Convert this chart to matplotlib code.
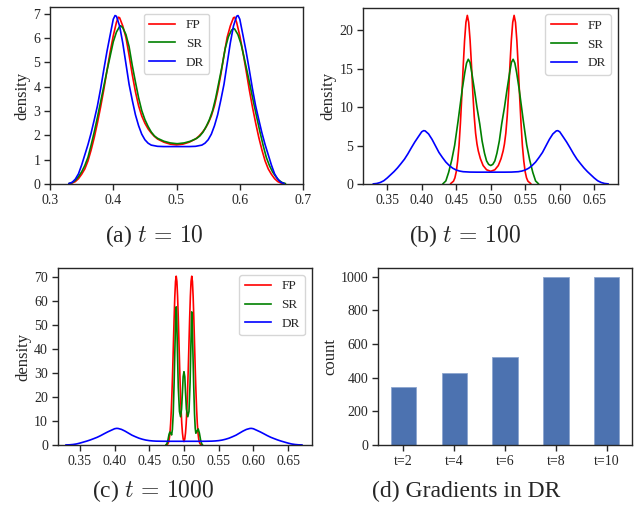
import matplotlib
matplotlib.use("Agg")
import matplotlib.pyplot as plt

# ----------------------------------------------------------------------
# data
# ----------------------------------------------------------------------

# DR density (same converged curve in all three panels)
dr_x = [0.330, 0.335, 0.340, 0.345, 0.350, 0.355, 0.360, 0.365, 0.370, 0.375,
        0.380, 0.385, 0.390, 0.395, 0.400, 0.4028, 0.405, 0.410, 0.415, 0.420,
        0.425, 0.430, 0.435, 0.440, 0.445, 0.450, 0.455, 0.460, 0.470, 0.480,
        0.500, 0.520, 0.530, 0.540, 0.545, 0.550, 0.555, 0.560, 0.565, 0.570,
        0.575, 0.580, 0.585, 0.590, 0.595, 0.5972, 0.600, 0.605, 0.610, 0.615,
        0.620, 0.625, 0.630, 0.635, 0.640, 0.645, 0.650, 0.655, 0.660, 0.665,
        0.670]
dr_y = [0.02, 0.07, 0.20, 0.42, 0.78, 1.20, 1.62, 2.10, 2.65, 3.22,
        3.92, 4.70, 5.45, 6.12, 6.78, 6.93, 6.90, 6.50, 5.80, 4.95,
        4.10, 3.45, 2.85, 2.40, 2.05, 1.82, 1.68, 1.60, 1.55, 1.54,
        1.54, 1.54, 1.55, 1.60, 1.68, 1.82, 2.05, 2.40, 2.85, 3.45,
        4.10, 4.95, 5.80, 6.50, 6.90, 6.93, 6.78, 6.12, 5.45, 4.70,
        3.92, 3.22, 2.65, 2.10, 1.62, 1.20, 0.78, 0.42, 0.20, 0.07,
        0.02]

# (a) t = 10
fp10_x = [0.330, 0.335, 0.340, 0.345, 0.350, 0.355, 0.360, 0.365, 0.370, 0.375,
          0.380, 0.385, 0.390, 0.395, 0.400, 0.405, 0.408, 0.410, 0.415, 0.420,
          0.425, 0.430, 0.435, 0.440, 0.445, 0.450, 0.455, 0.460, 0.465, 0.470,
          0.480, 0.490, 0.500, 0.510, 0.520, 0.530, 0.535, 0.540, 0.545, 0.550,
          0.555, 0.560, 0.565, 0.570, 0.575, 0.580, 0.585, 0.590, 0.592, 0.595,
          0.600, 0.605, 0.610, 0.615, 0.620, 0.625, 0.630, 0.635, 0.640, 0.645,
          0.650, 0.655, 0.660, 0.665, 0.670]
fp10_y = [0.01, 0.04, 0.10, 0.22, 0.40, 0.62, 0.95, 1.40, 1.92, 2.52,
          3.17, 3.88, 4.66, 5.42, 6.10, 6.65, 6.86, 6.84, 6.50, 6.03,
          5.30, 4.50, 3.80, 3.22, 2.80, 2.50, 2.27, 2.10, 1.96, 1.85,
          1.72, 1.64, 1.61, 1.64, 1.72, 1.85, 1.96, 2.10, 2.27, 2.50,
          2.80, 3.22, 3.80, 4.50, 5.30, 6.03, 6.50, 6.84, 6.86, 6.65,
          6.10, 5.42, 4.66, 3.88, 3.17, 2.52, 1.92, 1.40, 0.95, 0.62,
          0.40, 0.22, 0.10, 0.04, 0.01]
sr10_x = [0.330, 0.335, 0.340, 0.345, 0.350, 0.355, 0.360, 0.365, 0.370, 0.375,
          0.380, 0.385, 0.390, 0.395, 0.400, 0.405, 0.410, 0.4117, 0.415, 0.420,
          0.425, 0.430, 0.435, 0.440, 0.445, 0.450, 0.455, 0.460, 0.465, 0.470,
          0.480, 0.490, 0.500, 0.502, 0.512, 0.522, 0.532, 0.537, 0.542, 0.547,
          0.552, 0.557, 0.562, 0.567, 0.572, 0.577, 0.582, 0.587, 0.5903, 0.592,
          0.597, 0.602, 0.607, 0.612, 0.617, 0.622, 0.627, 0.632, 0.637, 0.642,
          0.647, 0.652, 0.657, 0.662, 0.667, 0.672]
sr10_y = [0.02, 0.06, 0.15, 0.30, 0.50, 0.76, 1.10, 1.60, 2.15, 2.75,
          3.38, 4.02, 4.65, 5.25, 5.85, 6.25, 6.48, 6.51, 6.43, 6.15,
          5.65, 4.88, 4.20, 3.55, 3.02, 2.65, 2.37, 2.14, 1.98, 1.88,
          1.76, 1.69, 1.66, 1.66, 1.69, 1.76, 1.88, 1.98, 2.14, 2.37,
          2.65, 3.02, 3.55, 4.20, 4.85, 5.58, 6.06, 6.33, 6.40, 6.37,
          6.15, 5.76, 5.18, 4.58, 3.96, 3.33, 2.72, 2.13, 1.58, 1.09,
          0.75, 0.49, 0.30, 0.15, 0.06, 0.02]

# (b) t = 100
fp100_x = [0.4421, 0.4461, 0.4481, 0.4501, 0.4521, 0.4541, 0.4561, 0.4581, 0.4601, 0.4621,
           0.4641, 0.4661, 0.4681, 0.4701, 0.4721, 0.4741, 0.4761, 0.4781, 0.4801, 0.4820,
           0.4850, 0.4890, 0.4940, 0.5000, 0.5060, 0.5110, 0.5150, 0.5180, 0.5199, 0.5219,
           0.5239, 0.5259, 0.5279, 0.5299, 0.5319, 0.5339, 0.5359, 0.5379, 0.5399, 0.5419,
           0.5439, 0.5459, 0.5479, 0.5499, 0.5519, 0.5539, 0.5579]
fp100_y = [0.06, 0.37, 0.80, 1.60, 3.00, 5.00, 7.90, 11.4, 15.2, 18.6,
           21.0, 21.9, 21.0, 18.7, 15.5, 11.8, 8.80, 6.60, 5.20, 4.30,
           3.30, 2.40, 1.85, 1.65, 1.85, 2.40, 3.30, 4.30, 5.20, 6.60,
           8.80, 11.8, 15.5, 18.7, 21.0, 21.9, 21.0, 18.6, 15.2, 11.4,
           7.90, 5.00, 3.00, 1.60, 0.80, 0.37, 0.06]
sr100_x = [0.4310, 0.4350, 0.4390, 0.4435, 0.4478, 0.4526, 0.4589, 0.4625, 0.4650, 0.4675,
           0.4700, 0.4725, 0.4768, 0.4800, 0.4841, 0.4875, 0.4910, 0.4940, 0.4970, 0.5000,
           0.5030, 0.5060, 0.5090, 0.5125, 0.5159, 0.5200, 0.5232, 0.5275, 0.5300, 0.5325,
           0.5350, 0.5375, 0.5411, 0.5474, 0.5522, 0.5565, 0.5610, 0.5650, 0.5690]
sr100_y = [0.05, 0.40, 1.50, 3.10, 5.05, 8.10, 12.4, 14.5, 15.7, 16.2,
           15.8, 14.5, 12.0, 10.0, 7.80, 5.60, 4.00, 3.00, 2.55, 2.40,
           2.55, 3.00, 4.00, 5.60, 7.80, 10.0, 12.0, 14.5, 15.8, 16.2,
           15.7, 14.5, 12.4, 8.10, 5.05, 3.10, 1.50, 0.40, 0.05]

# (c) t = 1000
fp1000_x = [0.4748, 0.4758, 0.4768, 0.4778, 0.4788, 0.4798, 0.4808, 0.4818, 0.4828, 0.4838,
            0.4848, 0.4858, 0.4868, 0.4878, 0.4888, 0.4898, 0.4908, 0.4918, 0.4928, 0.4938,
            0.4948, 0.4958, 0.4968, 0.4978, 0.4988, 0.5000, 0.5012, 0.5022, 0.5032, 0.5042,
            0.5052, 0.5062, 0.5072, 0.5082, 0.5092, 0.5102, 0.5112, 0.5122, 0.5132, 0.5142,
            0.5152, 0.5162, 0.5172, 0.5182, 0.5192, 0.5202, 0.5212, 0.5222, 0.5232, 0.5242,
            0.5252]
fp1000_y = [0.05, 0.2, 0.5, 1.2, 2.5, 5.0, 9.0, 15.0, 22.8, 32.0,
            42.5, 53.0, 62.0, 68.3, 70.5, 68.3, 62.0, 53.0, 42.5, 32.0,
            22.8, 15.0, 9.0, 5.0, 2.6, 1.4, 2.6, 5.0, 9.0, 15.0,
            22.8, 32.0, 42.5, 53.0, 62.0, 68.3, 70.5, 68.3, 62.0, 53.0,
            42.5, 32.0, 22.8, 15.0, 9.0, 5.0, 2.5, 1.2, 0.5, 0.2,
            0.05]
sr1000_x = [0.4739, 0.4755, 0.4770, 0.4785, 0.4797, 0.4810, 0.4822, 0.4833, 0.4845, 0.4858,
            0.4870, 0.4880, 0.4888, 0.4895, 0.4905, 0.4918, 0.4935, 0.4951, 0.4965, 0.4978,
            0.4988, 0.5000, 0.5012, 0.5022, 0.5035, 0.5055, 0.5072, 0.5088, 0.5100, 0.5107,
            0.5112, 0.5118, 0.5127, 0.5140, 0.5152, 0.5162, 0.5171, 0.5188, 0.5205, 0.5222,
            0.5240, 0.5255, 0.5268]
sr1000_y = [0.0, 0.6, 2.2, 4.5, 5.4, 4.9, 4.2, 6.5, 13.0, 26.0,
            41.0, 53.0, 57.7, 54.0, 40.0, 24.0, 14.0, 11.8, 15.0, 22.0,
            28.5, 30.6, 28.5, 22.0, 15.0, 11.8, 14.0, 26.0, 42.0, 51.0,
            55.6, 52.0, 41.0, 25.0, 13.0, 7.0, 4.9, 5.8, 6.7, 5.0,
            2.0, 0.5, 0.0]

# (d) gradients in DR
steps = ['t=2', 't=4', 't=6', 't=8', 't=10']
counts = [345, 430, 525, 1000, 1000]

captions = [r'(a) $t\,=\,10$', r'(b) $t\,=\,100$', r'(c) $t\,=\,1000$',
            '(d) Gradients in DR']
ticks_bc = [0.35, 0.40, 0.45, 0.50, 0.55, 0.60, 0.65]
tick_labels_bc = ['0.35', '0.40', '0.45', '0.50', '0.55', '0.60', '0.65']

# ----------------------------------------------------------------------
# style
# ----------------------------------------------------------------------
dark = '#262626'
plt.rcParams['font.family'] = ['Liberation Serif', 'DejaVu Serif']
plt.rcParams['mathtext.fontset'] = 'cm'
plt.rcParams['axes.edgecolor'] = dark
plt.rcParams['axes.labelcolor'] = dark
plt.rcParams['xtick.color'] = dark
plt.rcParams['ytick.color'] = dark
plt.rcParams['text.color'] = dark
plt.rcParams['axes.linewidth'] = 1.0


def style_axes(ax):
    ax.tick_params(direction='out', length=4, width=1.0, labelsize=10, pad=3)


def density_panel(ax, series, xlim, ylim, xticks, loc):
    for (xs, ys, col, lab) in series:
        ax.plot(xs, ys, color=col, lw=1.2, label=lab)
    ax.set_xlim(*xlim)
    ax.set_ylim(*ylim)
    ax.set_xticks(xticks)
    ax.set_ylabel('density', fontsize=12, labelpad=2)
    style_axes(ax)
    ax.legend(loc=loc, fontsize=9.5, labelspacing=0.5, edgecolor='0.8',
              fancybox=True, framealpha=0.8)


fig = plt.figure(figsize=(6.38, 5.13), dpi=100)

ax_a = fig.add_axes([0.0784, 0.6413, 0.3966, 0.3450])
density_panel(ax_a,
              [(fp10_x, fp10_y, 'red', 'FP'),
               (sr10_x, sr10_y, 'green', 'SR'),
               (dr_x, dr_y, 'blue', 'DR')],
              (0.3, 0.7), (0, 7.28), [0.3, 0.4, 0.5, 0.6, 0.7], 'upper center')
ax_a.set_yticks(range(0, 8))

ax_b = fig.add_axes([0.569, 0.6413, 0.3992, 0.3437])
density_panel(ax_b,
              [(fp100_x, fp100_y, 'red', 'FP'),
               (sr100_x, sr100_y, 'green', 'SR'),
               (dr_x, dr_y, 'blue', 'DR')],
              (0.315, 0.684), (0, 22.9), ticks_bc, 'upper right')
ax_b.set_xticklabels(tick_labels_bc)

ax_c = fig.add_axes([0.0904, 0.1326, 0.3981, 0.3444])
density_panel(ax_c,
              [(fp1000_x, fp1000_y, 'red', 'FP'),
               (sr1000_x, sr1000_y, 'green', 'SR'),
               (dr_x, dr_y, 'blue', 'DR')],
              (0.318, 0.684), (0, 73.8), ticks_bc, 'upper right')
ax_c.set_xticklabels(tick_labels_bc)
ax_c.set_yticks(range(0, 71, 10))

ax_d = fig.add_axes([0.5925, 0.1326, 0.3981, 0.345])
ax_d.bar(range(len(steps)), counts, width=0.5, color='#4C72B0',
         edgecolor='#8da6cf', linewidth=0.6)
ax_d.set_xlim(-0.5, len(steps) - 0.5)
ax_d.set_ylim(0, 1052)
ax_d.set_xticks(range(len(steps)))
ax_d.set_xticklabels(steps)
ax_d.set_yticks(range(0, 1001, 200))
ax_d.set_ylabel('count', fontsize=12, labelpad=2)
style_axes(ax_d)

cap_pos = [(0.242, 0.540), (0.729, 0.540), (0.240, 0.042), (0.730, 0.042)]
for (cx, cy), txt in zip(cap_pos, captions):
    fig.text(cx, cy, txt, ha='center', va='center', fontsize=17)

fig.savefig('out.png', dpi=100)
